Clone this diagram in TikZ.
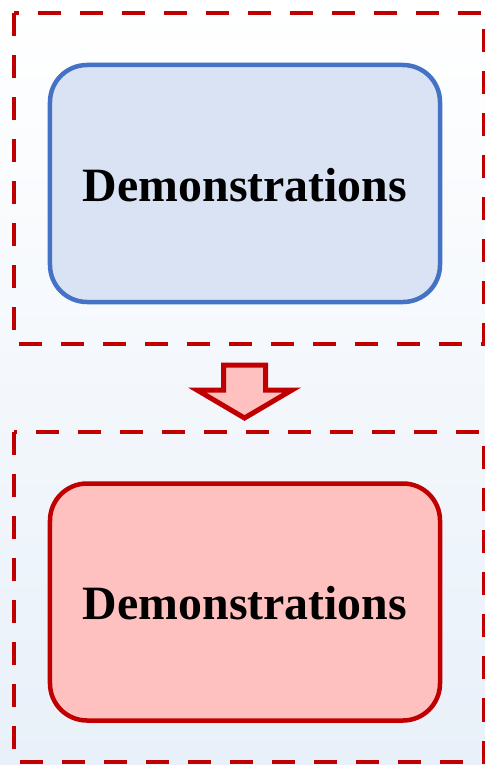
\documentclass[tikz,border=0pt]{standalone}
\usepackage{fontspec}
\setmainfont{Liberation Serif}
\definecolor{bgbottom}{RGB}{232,240,249}
\definecolor{dashred}{RGB}{192,0,0}
\definecolor{bluefill}{RGB}{218,227,243}
\definecolor{blueline}{RGB}{68,114,196}
\definecolor{redfill}{RGB}{255,192,192}
\begin{document}
\begin{tikzpicture}[x=1bp,y=-1bp,
  groupbox/.style={draw=dashred,line width=4bp,dash pattern=on 23bp off 19bp},
  stagebox/.style={rounded corners=37bp,line width=4.5bp,minimum width=390bp,minimum height=237bp},
  stagetext/.style={font=\fontsize{48}{52}\selectfont\bfseries,inner sep=0pt,anchor=base},
  flowarrow/.style={draw=dashred,fill=redfill,line width=5bp,line join=miter}]
  % page background
  \shade[top color=white,bottom color=bgbottom] (0,0) rectangle (485,765);
  \useasboundingbox (0,0) rectangle (485,765);
  % dashed group frames
  \draw[groupbox] (14,13) rectangle (483.5,344);
  \draw[groupbox] (14,432) rectangle (483.5,762);
  % stage boxes
  \node[stagebox,draw=blueline,fill=bluefill] (top) at (245,183.5) {};
  \node[stagebox,draw=dashred,fill=redfill] (bottom) at (245,602) {};
  \node[stagetext] (toplabel) at (245,201) {Demonstrations};
  \node[stagetext] (bottomlabel) at (245,619.5) {Demonstrations};
  % block arrow between the frames
  \coordinate (tip) at (244.5,418);
  \draw[flowarrow] (223.5,365) -- (265.5,365) -- (265.5,390) -- (292,390) -- (tip)
    -- (197,390) -- (223.5,390) -- cycle;
\end{tikzpicture}
\end{document}
